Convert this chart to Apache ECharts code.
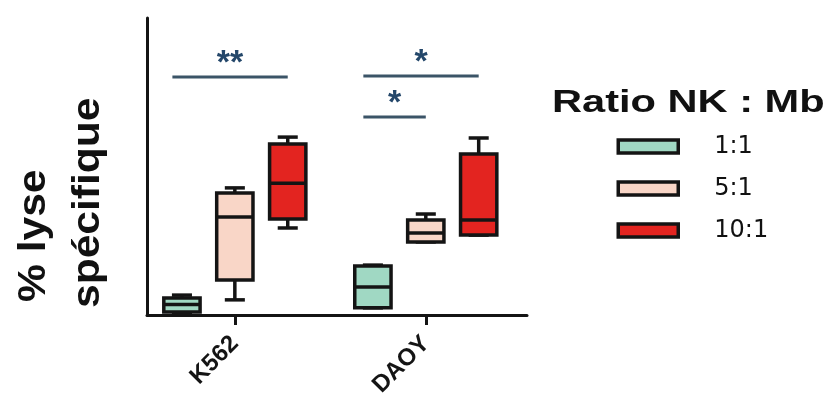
<!DOCTYPE html>
<html>
<head>
<meta charset="utf-8">
<script src="https://cdn.jsdelivr.net/npm/echarts@6/dist/echarts.min.js"></script>
<style>html,body{margin:0;padding:0;background:#fff}#c{width:830px;height:397px}</style>
</head>
<body>
<div id="c"></div>
<script>
// ---- data ----
const categories = ['K562', 'DAOY'];
const ratioNames = ['1:1', '5:1', '10:1'];
// each row: [categoryIndex, min, Q1, median, Q3, max]
const ratio1to1 = [[0, 0.5, 1.0, 3.5, 5.7, 6.7], [1, 2.4, 2.4, 9.4, 16.5, 16.8]];
const ratio5to1 = [[0, 5.1, 11.8, 33.0, 41.1, 42.8], [1, 24.6, 24.6, 27.6, 32.0, 34.0]];
const ratio10to1 = [[0, 29.3, 32.3, 44.4, 57.6, 59.9], [1, 26.9, 26.9, 32.0, 54.2, 59.6]];
// significance bars: [categoryIndex, fromRatioIndex, toRatioIndex, yValue]
const sigBars = [[0, 0, 2, 80.1], [1, 0, 2, 80.5], [1, 0, 1, 66.7]];
const sigLabels = ['**', '*', '*'];

const colors = ['#a0d8c3', '#f9d6c7', '#e32420'];
const STEP = 0.277, BOX_W = 0.19, CAP_W = 0.105;
const INK = '#141414';

function makeBoxRender(k) {
  return function (params, api) {
    const x = api.value(0) + (k - 1) * STEP;
    const pMin = api.coord([x, api.value(1)]);
    const pQ1 = api.coord([x, api.value(2)]);
    const pMed = api.coord([x, api.value(3)]);
    const pQ3 = api.coord([x, api.value(4)]);
    const pMax = api.coord([x, api.value(5)]);
    const w = api.size([BOX_W, 0])[0];
    const cw = api.size([CAP_W, 0])[0];
    const cx = pMed[0];
    const ls = { stroke: INK, lineWidth: 3.5 };
    return {
      type: 'group',
      children: [
        { type: 'line', shape: { x1: cx, y1: pQ3[1], x2: cx, y2: pMax[1] }, style: ls },
        { type: 'line', shape: { x1: cx, y1: pQ1[1], x2: cx, y2: pMin[1] }, style: ls },
        { type: 'line', shape: { x1: cx - cw / 2, y1: pMax[1], x2: cx + cw / 2, y2: pMax[1] }, style: ls },
        { type: 'line', shape: { x1: cx - cw / 2, y1: pMin[1], x2: cx + cw / 2, y2: pMin[1] }, style: ls },
        { type: 'rect', shape: { x: cx - w / 2, y: pQ3[1], width: w, height: pQ1[1] - pQ3[1] },
          style: { fill: colors[k], stroke: INK, lineWidth: 3.5 } },
        { type: 'line', shape: { x1: cx - w / 2, y1: pMed[1], x2: cx + w / 2, y2: pMed[1] }, style: ls }
      ]
    };
  };
}

function renderSig(params, api) {
  const cat = api.value(0);
  const x1v = cat + (api.value(1) - 1) * STEP - 0.05;
  const x2v = cat + (api.value(2) - 1) * STEP;
  const p1 = api.coord([x1v, api.value(3)]);
  const p2 = api.coord([x2v, api.value(3)]);
  return {
    type: 'group',
    children: [
      { type: 'line', shape: { x1: p1[0], y1: p1[1], x2: p2[0], y2: p2[1] },
        style: { stroke: '#3b5467', lineWidth: 3 } },
      { type: 'text', x: (p1[0] + p2[0]) / 2, y: p1[1] - 13,
        style: { text: sigLabels[params.dataIndex], fill: '#24476a',
          font: 'bold 34px "Liberation Sans"', align: 'center', verticalAlign: 'middle' } }
    ]
  };
}

const seriesData = [ratio1to1, ratio5to1, ratio10to1];
const series = seriesData.map((d, k) => ({
  name: ratioNames[k],
  type: 'custom',
  renderItem: makeBoxRender(k),
  itemStyle: { color: colors[k] },
  encode: { x: 0, y: [1, 2, 3, 4, 5] },
  data: d
}));
series.push({
  name: 'sig',
  type: 'custom',
  renderItem: renderSig,
  encode: { x: 0, y: 3 },
  data: sigBars,
  silent: true
});

const chart = echarts.init(document.getElementById('c'));
chart.setOption({
  animation: false,
  backgroundColor: '#fff',
  grid: { left: 147, right: 303, top: 18, bottom: 82, outerBoundsMode: 'none', containLabel: false },
  xAxis: {
    type: 'value', min: -0.46, max: 1.53,
    splitLine: { show: false },
    axisLine: { show: true, onZero: false, lineStyle: { color: INK, width: 3 } },
    axisTick: { show: true, customValues: [0, 1], length: 10, lineStyle: { color: INK, width: 3 } },
    axisLabel: { customValues: [0, 1], formatter: v => categories[Math.round(v)],
      rotate: 45, margin: 25, color: INK, fontWeight: 'bold', fontSize: 24, fontFamily: 'Liberation Sans' }
  },
  yAxis: {
    type: 'value', min: 0, max: 100,
    splitLine: { show: false },
    axisLine: { show: true, onZero: false, lineStyle: { color: INK, width: 3 } },
    axisTick: { show: false },
    axisLabel: { show: false }
  },
  legend: {
    data: ratioNames,
    orient: 'vertical',
    left: 611.5, top: 129.5,
    icon: 'rect',
    itemWidth: 60, itemHeight: 13, itemGap: 18,
    selectedMode: false,
    itemStyle: { borderColor: INK, borderWidth: 3.5 },
    textStyle: { fontSize: 24, fontFamily: 'DejaVu Sans', color: '#111', lineHeight: 16, padding: [0, 0, 0, 31] }
  },
  graphic: [
    { type: 'text', x: 552, y: 103.5, scaleX: 1.3,
      style: { text: 'Ratio NK : Mb', font: 'bold 32px "Liberation Sans"', fill: '#111', align: 'left', verticalAlign: 'middle' } },
    { type: 'text', x: 35, y: 302, rotation: Math.PI / 2, scaleX: 1.12,
      style: { text: '% lyse', font: 'bold 38px "Liberation Sans"', fill: '#111', align: 'left', verticalAlign: 'middle' } },
    { type: 'text', x: 89, y: 308, rotation: Math.PI / 2, scaleX: 1.12,
      style: { text: 'spécifique', font: 'bold 38px "Liberation Sans"', fill: '#111', align: 'left', verticalAlign: 'middle' } }
  ],
  series: series
});
</script>
</body>
</html>
